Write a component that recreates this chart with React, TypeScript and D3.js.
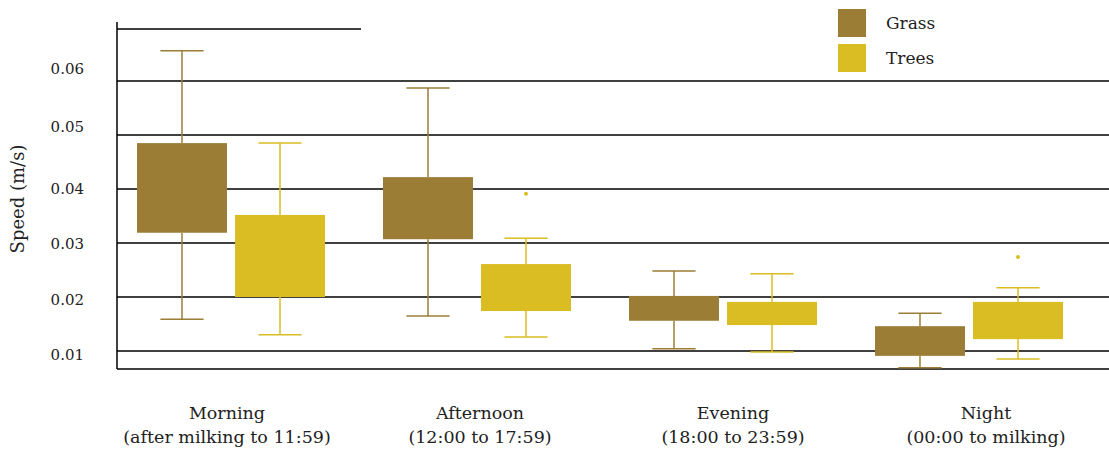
import React from "react";
import * as d3 from "d3";

const categories = ["Morning", "Afternoon", "Evening", "Night"];
const subLabels = ["(after milking to 11:59)", "(12:00 to 17:59)", "(18:00 to 23:59)", "(00:00 to milking)"];
const series = ["Grass", "Trees"];
const yTicks = [0.01, 0.02, 0.03, 0.04, 0.05, 0.06];

// per series, per category
const grassQ1 = [0.0319, 0.0307, 0.0156, 0.0091];
const grassQ3 = [0.0485, 0.0422, 0.0202, 0.0146];
const grassLow = [0.0159, 0.0165, 0.0104, 0.0069];
const grassHigh = [0.0656, 0.0587, 0.0248, 0.017];
const grassOutliers: number[][] = [[], [], [], []];

const treesQ1 = [0.02, 0.0174, 0.0148, 0.0122];
const treesQ3 = [0.0352, 0.0261, 0.0191, 0.0191];
const treesLow = [0.013, 0.0126, 0.0098, 0.0085];
const treesHigh = [0.0485, 0.0309, 0.0243, 0.0217];
const treesOutliers: number[][] = [[], [0.0391], [], [0.0274]];

const colors = ["#9b7d36", "#dabd23"];

const W = 1109;
const H = 452;
const FONT = "'DejaVu Serif', serif";

export default function App() {
  const y = d3.scaleLinear().domain([0.01, 0.06]).range([351, 81]);
  // tick labels in the reference sit on a slightly different (uneven) scale than the grid
  const yLabel = d3.scaleLinear().domain(yTicks).range([355, 300, 244, 189, 126.5, 68.3]);
  const x = d3.scaleBand<string>().domain(categories).range([108, 1092]).padding(0);
  const xs = d3.scaleBand<string>().domain(series).range([-94, 94]).paddingInner(0.082).paddingOuter(0);
  const xl = d3.scalePoint<string>().domain(categories).range([227, 986]);

  const data = [
    { q1: grassQ1, q3: grassQ3, lo: grassLow, hi: grassHigh, out: grassOutliers },
    { q1: treesQ1, q3: treesQ3, lo: treesLow, hi: treesHigh, out: treesOutliers },
  ];

  const axisX = 117;
  const yBottom = y(0.01) + 18;
  const yTop = 22;

  return (
    <svg width={W} height={H} style={{ position: "absolute", left: 0, top: 0, fontFamily: FONT }}>
      <rect width={W} height={H} fill="#fff" />
      {yTicks.map((t) => (
        <line key={t} x1={axisX} x2={W} y1={y(t)} y2={y(t)} stroke="#000" strokeWidth={1.5} />
      ))}
      <line x1={axisX} x2={361} y1={y(0.07) + 2} y2={y(0.07) + 2} stroke="#000" strokeWidth={1.5} />
      <line x1={axisX} x2={W} y1={yBottom} y2={yBottom} stroke="#000" strokeWidth={1.5} />
      <line x1={axisX} x2={axisX} y1={yTop} y2={yBottom} stroke="#000" strokeWidth={1.5} />
      {yTicks.map((t) => (
        <text key={"l" + t} x={84} y={yLabel(t)} dy="0.36em" textAnchor="end" fontSize={15} fill="#222" style={{ fontFamily: FONT }}>
          {d3.format(".2f")(t)}
        </text>
      ))}
      <text transform={`translate(24,199) rotate(-90)`} textAnchor="middle" fontSize={18} fill="#222" style={{ fontFamily: FONT }}>
        Speed (m/s)
      </text>

      {categories.map((c, ci) =>
        series.map((s, si) => {
          const d = data[si];
          const cx = x(c)! + x.bandwidth() / 2 + xs(s)! + xs.bandwidth() / 2;
          const bx = x(c)! + x.bandwidth() / 2 + xs(s)!;
          const bw = xs.bandwidth();
          const capHalf = bw * 0.24;
          const col = colors[si];
          return (
            <g key={c + s}>
              <line x1={cx} x2={cx} y1={y(d.hi[ci])} y2={y(d.q3[ci])} stroke={col} strokeWidth={1.5} />
              <line x1={cx} x2={cx} y1={y(d.q1[ci])} y2={y(d.lo[ci])} stroke={col} strokeWidth={1.5} />
              <line x1={cx - capHalf} x2={cx + capHalf} y1={y(d.hi[ci])} y2={y(d.hi[ci])} stroke={col} strokeWidth={1.5} />
              <line x1={cx - capHalf} x2={cx + capHalf} y1={y(d.lo[ci])} y2={y(d.lo[ci])} stroke={col} strokeWidth={1.5} />
              <rect x={bx} width={bw} y={y(d.q3[ci])} height={y(d.q1[ci]) - y(d.q3[ci])} fill={col} />
              {d.out[ci].map((o, oi) => (
                <circle key={oi} cx={cx} cy={y(o)} r={2} fill={col} />
              ))}
            </g>
          );
        })
      )}

      {categories.map((c, ci) => (
        <text key={"c" + c} textAnchor="middle" fontSize={17.5} fill="#222" style={{ fontFamily: FONT }}>
          <tspan x={xl(c)} y={419}>{c}</tspan>
          <tspan x={xl(c)} y={443}>{subLabels[ci]}</tspan>
        </text>
      ))}

      {series.map((s, si) => (
        <g key={"lg" + s} transform={`translate(838,${9 + si * 35})`}>
          <rect width={28} height={28} fill={colors[si]} />
          <text x={48} y={14} dy="0.35em" fontSize={17} fill="#222" style={{ fontFamily: FONT }}>{s}</text>
        </g>
      ))}
    </svg>
  );
}
